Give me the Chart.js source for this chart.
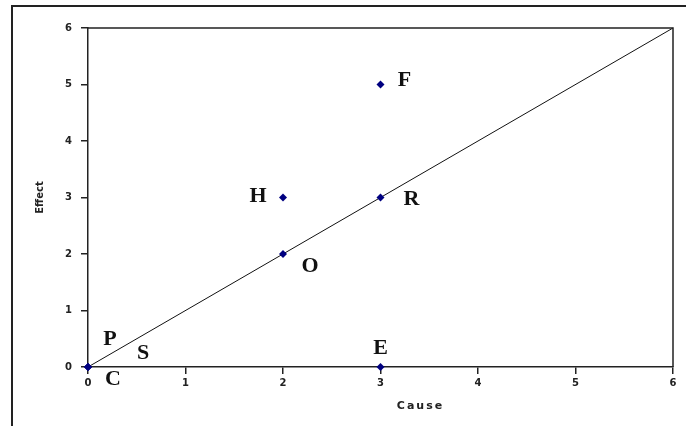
<!DOCTYPE html>
<html>
<head>
<meta charset="utf-8">
<script src="https://cdn.jsdelivr.net/npm/chart.js@4.4.1/dist/chart.umd.min.js"></script>
<style>
html,body{margin:0;padding:0;background:#fff;}
#wrap{position:relative;width:686px;height:426px;}
</style>
</head>
<body>
<div id="wrap"><canvas id="c" width="686" height="426"></canvas></div>
<script>
// ---- data ----
const pointNames = ["C", "P", "S", "E", "O", "H", "R", "F"];
const causeValues = [0, 0, 0, 3, 2, 2, 3, 3];
const effectValues = [0, 0, 0, 0, 2, 3, 3, 5];
const lineX = [0, 6];
const lineY = [0, 6];
const axisTicks = [0, 1, 2, 3, 4, 5, 6];
const xTitle = "Cause";
const yTitle = "Effect";

// label offsets (pixels, style only)
const labelOffsets = {
  C: [25, 12], P: [22, -28], S: [55, -14], E: [0, -19],
  O: [27, 12], H: [-25, -1], R: [31, 2], F: [24, -4]
};

const pts = causeValues.map((x, i) => ({x: x, y: effectValues[i]}));
const linePts = lineX.map((x, i) => ({x: x, y: lineY[i]}));

const decor = {
  id: 'decor',
  beforeDraw(chart) {
    const ctx = chart.ctx;
    ctx.save();
    ctx.fillStyle = '#222';
    ctx.fillRect(11, 5, 675, 2);
    ctx.fillRect(11, 5, 2, 421);
    ctx.restore();
  },
  afterDatasetsDraw(chart) {
    const ctx = chart.ctx;
    const a = chart.chartArea;
    const xs = chart.scales.x, ys = chart.scales.y;
    ctx.save();
    // plot frame top/right
    ctx.strokeStyle = '#222';
    ctx.lineWidth = 1.5;
    ctx.beginPath();
    ctx.moveTo(a.left, a.top);
    ctx.lineTo(a.right, a.top);
    ctx.lineTo(a.right, a.bottom);
    ctx.stroke();
    // point labels
    ctx.fillStyle = '#111';
    ctx.font = 'bold 22px "Liberation Serif"';
    ctx.textAlign = 'center';
    ctx.textBaseline = 'middle';
    pointNames.forEach((n, i) => {
      const px = xs.getPixelForValue(causeValues[i]);
      const py = ys.getPixelForValue(effectValues[i]);
      const o = labelOffsets[n];
      ctx.fillText(n, px + o[0], py + o[1]);
    });
    // axis titles
    ctx.fillStyle = '#222';
    ctx.font = 'bold 11px "DejaVu Sans"';
    try { ctx.letterSpacing = '2px'; } catch (e) {}
    ctx.fillText(xTitle, (a.left + a.right) / 2 + 40, 406);
    try { ctx.letterSpacing = '0px'; } catch (e) {}
    ctx.font = 'bold 10px "DejaVu Sans"';
    ctx.translate(40, (a.top + a.bottom) / 2);
    ctx.rotate(-Math.PI / 2);
    ctx.fillText(yTitle, 0, 0);
    ctx.restore();
  }
};

new Chart(document.getElementById('c'), {
  type: 'scatter',
  data: {
    datasets: [
      {
        type: 'line',
        data: linePts,
        borderColor: '#111',
        borderWidth: 1,
        pointRadius: 0,
        fill: false,
        clip: false,
        order: 2
      },
      {
        data: pts,
        pointStyle: 'rectRot',
        pointRadius: 4,
        backgroundColor: '#000080',
        borderColor: '#000080',
        borderWidth: 0,
        clip: false,
        order: 1
      }
    ]
  },
  options: {
    responsive: false,
    animation: false,
    devicePixelRatio: 1,
    layout: {padding: {left: 0, right: 13, top: 28, bottom: 0}},
    plugins: {legend: {display: false}, tooltip: {enabled: false}},
    scales: {
      x: {
        type: 'linear', min: 0, max: 6,
        afterFit(s) { s.height = 59; },
        afterBuildTicks(s) { s.ticks = axisTicks.map(v => ({value: v})); },
        grid: {drawOnChartArea: false, drawTicks: true, tickLength: 7, color: '#222', lineWidth: 1.5},
        border: {display: true, color: '#222', width: 1.5},
        ticks: {padding: 3, color: '#222', font: {family: 'DejaVu Sans', size: 10, weight: 'bold'}, maxRotation: 0}
      },
      y: {
        type: 'linear', min: 0, max: 6,
        afterFit(s) { s.width = 88; },
        afterBuildTicks(s) { s.ticks = axisTicks.map(v => ({value: v})); },
        grid: {drawOnChartArea: false, drawTicks: true, tickLength: 7, color: '#222', lineWidth: 1.5},
        border: {display: true, color: '#222', width: 1.5},
        ticks: {padding: 9, color: '#222', font: {family: 'DejaVu Sans', size: 10, weight: 'bold'}}
      }
    }
  },
  plugins: [decor]
});
</script>
</body>
</html>
